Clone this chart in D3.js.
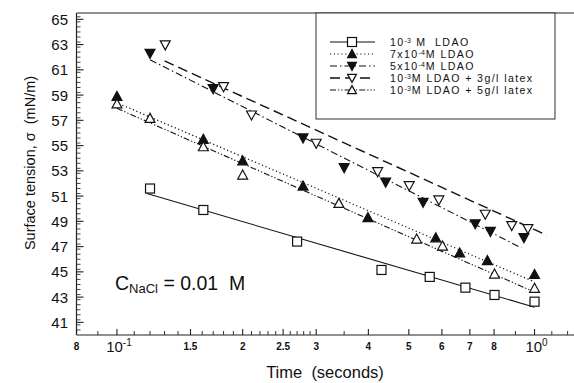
<!DOCTYPE html>
<html><head><meta charset="utf-8">
<script src="https://cdn.jsdelivr.net/npm/d3@7"></script>
<style>body{margin:0;background:#fff}svg{display:block}text{font-family:"Liberation Sans",Arial,sans-serif;fill:#111}</style>
</head><body><svg id="c" width="574" height="383"></svg>
<script>
// ---- data ----
const seriesBase = ["10","7x10","5x10","10","10"];
const seriesExp = ["-3","-4","-4","-3","-3"];
const seriesRest = [" M  LDAO","M LDAO","M LDAO","M LDAO + 3g/l latex","M LDAO + 5g/l latex"];
const times1 = [0.120, 0.161, 0.270, 0.430, 0.561, 0.683, 0.802, 1.0];
const tension1 = [51.6, 49.9, 47.4, 45.15, 44.6, 43.75, 43.17, 42.64];
const times2 = [0.100, 0.161, 0.200, 0.279, 0.399, 0.580, 0.662, 0.771, 1.0];
const tension2 = [58.9, 55.5, 53.8, 51.8, 49.3, 47.7, 46.5, 45.9, 44.8];
const times3 = [0.120, 0.170, 0.279, 0.350, 0.440, 0.541, 0.721, 0.784, 0.943];
const tension3 = [62.3, 59.5, 55.6, 53.25, 52.1, 50.5, 48.8, 48.2, 47.7];
const times4 = [0.1305, 0.180, 0.210, 0.300, 0.421, 0.501, 0.590, 0.762, 0.882, 0.964];
const tension4 = [62.97, 59.66, 57.42, 55.18, 52.93, 51.82, 50.69, 49.56, 48.66, 48.42];
const times5 = [0.100, 0.120, 0.161, 0.200, 0.340, 0.522, 0.602, 0.802, 1.0];
const tension5 = [58.3, 57.16, 54.91, 52.67, 50.43, 47.60, 47.05, 44.83, 43.70];
// fitted lines (end points)
const fitT1 = [0.118, 1.0],  fitS1 = [51.2, 42.2];
const fitT2 = [0.103, 1.0],  fitS2 = [58.2, 44.2];
const fitT3 = [0.120, 0.93], fitS3 = [61.8, 46.9];
const fitT4 = [0.130, 1.07], fitS4 = [61.7, 47.9];
const fitT5 = [0.100, 1.0],  fitS5 = [57.95, 43.4];
const yTickValues = [41,43,45,47,49,51,53,55,57,59,61,63,65];
const xTickValues = [0.08,0.1,0.15,0.2,0.25,0.3,0.4,0.5,0.6,0.7,0.8,1.0];
const xTickLabels = ["8","10|-1","1.5","2","2.5","3","4","5","6","7","8","10|0"];

// ---- layout ----
const L=76.5, R=575, T=13, B=335;
const x = d3.scaleLog().domain([0.08,1.25]).range([L,R]);
const y = d3.scaleLinear().domain([40,65.5]).range([B,T]);
const svg = d3.select("#c");

const series = [
  {t:times1,s:tension1,ft:fitT1,fs:fitS1,marker:"square",fill:"none",dash:null,w:1.1},
  {t:times2,s:tension2,ft:fitT2,fs:fitS2,marker:"up",fill:"#111",dash:"1.2,2.6",w:1.2},
  {t:times3,s:tension3,ft:fitT3,fs:fitS3,marker:"down",fill:"#111",dash:"7,3,1.5,3",w:1.1},
  {t:times4,s:tension4,ft:fitT4,fs:fitS4,marker:"down",fill:"none",dash:"10,5",w:1.4},
  {t:times5,s:tension5,ft:fitT5,fs:fitS5,marker:"up",fill:"none",dash:"6,2,1.3,2,1.3,2",w:1.1}
];

// axes lines
svg.append("line").attr("x1",L).attr("x2",574).attr("y1",T).attr("y2",T).attr("stroke","#222").attr("stroke-width",1.2);
svg.append("line").attr("x1",L).attr("x2",574).attr("y1",B).attr("y2",B).attr("stroke","#222").attr("stroke-width",1.2);
svg.append("line").attr("x1",L).attr("x2",L).attr("y1",T).attr("y2",B).attr("stroke","#222").attr("stroke-width",1.2);

// y ticks: major + minor (inward)
const yMinor = d3.range(40.4,65.5,0.4).filter(v=>!yTickValues.some(t=>Math.abs(t-v)<0.05));
svg.append("g").selectAll("line").data(yMinor).join("line")
  .attr("x1",L).attr("x2",L+4).attr("y1",d=>y(d)).attr("y2",d=>y(d)).attr("stroke","#333").attr("stroke-width",0.9);
svg.append("g").selectAll("line").data(yTickValues).join("line")
  .attr("x1",L).attr("x2",L+7).attr("y1",d=>y(d)).attr("y2",d=>y(d)).attr("stroke","#222").attr("stroke-width",1.1);
svg.append("g").selectAll("text").data(yTickValues).join("text")
  .attr("x",68).attr("y",d=>y(d)+5.5).attr("text-anchor","end").style("font-size","15px").text(d=>d);

// x ticks
const xMinor = [0.09].concat(d3.range(0.11,0.30,0.01)).concat([0.35,0.9,1.1,1.2]).filter(v=>!xTickValues.some(t=>Math.abs(t-v)<0.004));
svg.append("g").selectAll("line").data(xMinor).join("line")
  .attr("x1",d=>x(d)).attr("x2",d=>x(d)).attr("y1",B).attr("y2",B-4).attr("stroke","#333").attr("stroke-width",1);
svg.append("g").selectAll("line").data(xTickValues).join("line")
  .attr("x1",d=>x(d)).attr("x2",d=>x(d)).attr("y1",B).attr("y2",B-6).attr("stroke","#222").attr("stroke-width",1.1);
const xl = svg.append("g").selectAll("text").data(xTickValues).join("text")
  .attr("x",d=>x(d)).attr("y",352).attr("text-anchor","middle");
xl.each(function(d,i){
  const lab = xTickLabels[i], el=d3.select(this);
  if(lab.includes("|")){
    const [base,exp]=lab.split("|");
    el.style("font-size","15px").attr("dx",2);
    el.append("tspan").text(base);
    el.append("tspan").attr("dy",-6).style("font-size","10px").text(exp);
  } else {
    el.style("font-size","10px").style("font-weight","bold").attr("y",350).text(lab);
  }
});

// axis titles
svg.append("text").attr("x",325).attr("y",378).attr("text-anchor","middle").style("font-size","16.5px")
  .attr("xml:space","preserve").text("Time  (seconds)");
svg.append("text").attr("transform","translate(35,163) rotate(-90)").attr("text-anchor","middle").style("font-size","14.5px")
  .attr("xml:space","preserve").text("Surface tension, σ  (mN/m)");

// annotation
const ann = svg.append("text").attr("x",115).attr("y",290).style("font-size","19.5px");
ann.append("tspan").text("C");
ann.append("tspan").attr("dy",3).style("font-size","13px").text("NaCl");
ann.append("tspan").attr("dy",-3).attr("xml:space","preserve").text(" = 0.01  M");

// markers
function marker(g, type, fill, cx, cy, sz){
  if(type==="square"){
    g.append("rect").attr("x",cx-4.5).attr("y",cy-4.5).attr("width",9).attr("height",9)
      .attr("fill","#fff").attr("stroke","#111").attr("stroke-width",1.2);
  } else {
    const h=sz, s=sz*0.55;
    const pts = type==="up" ? [[cx,cy-h*0.55],[cx-s,cy+h*0.45],[cx+s,cy+h*0.45]]
                            : [[cx,cy+h*0.55],[cx-s,cy-h*0.45],[cx+s,cy-h*0.45]];
    g.append("path").attr("d","M"+pts.map(p=>p.join(",")).join("L")+"Z")
      .attr("fill",fill==="none"?"#fff":fill).attr("stroke","#111").attr("stroke-width",1.2);
  }
}

const line = d3.line().x(d=>x(d[0])).y(d=>y(d[1]));
series.forEach(sr=>{
  svg.append("path").datum(sr.ft.map((t,i)=>[t,sr.fs[i]])).attr("d",line)
    .attr("fill","none").attr("stroke","#111").attr("stroke-width",sr.w).attr("stroke-dasharray",sr.dash);
});
series.forEach(sr=>{
  const g=svg.append("g");
  sr.t.forEach((t,i)=>marker(g,sr.marker,sr.fill,x(t),y(sr.s[i]),9));
});

// legend
const lg = svg.append("g");
lg.append("rect").attr("x",316).attr("y",13).attr("width",239).attr("height",106).attr("fill","#fff").attr("stroke","#333").attr("stroke-width",1);
const legRow = d3.scaleLinear().domain([0,4]).range([42,90]);
const FS=10.6, LS=1.4;
series.forEach((sr,i)=>{
  const yy=legRow(i);
  lg.append("line").attr("x1",330).attr("x2",375).attr("y1",yy).attr("y2",yy)
    .attr("stroke","#111").attr("stroke-width",sr.w).attr("stroke-dasharray",sr.dash);
  marker(lg,sr.marker,sr.fill,352,yy,8);
  const t1=lg.append("text").attr("x",390).attr("y",yy+3.8).style("font-size",FS+"px").style("letter-spacing",LS+"px").text(seriesBase[i]);
  const w1=t1.node().getComputedTextLength();
  const t2=lg.append("text").attr("x",390+w1).attr("y",yy+0.6).style("font-size","7px").text(seriesExp[i]);
  const w2=t2.node().getComputedTextLength();
  lg.append("text").attr("x",390+w1+w2+1).attr("y",yy+3.8).style("font-size",FS+"px").style("letter-spacing",LS+"px")
    .attr("xml:space","preserve").text(seriesRest[i]);
});
</script></body></html>
